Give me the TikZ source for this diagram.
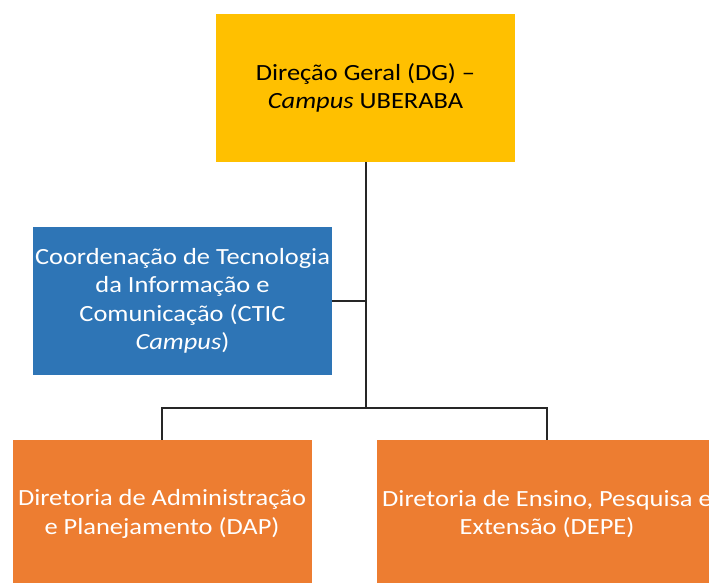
\documentclass[tikz,border=0pt]{standalone}
\usepackage{fontspec}
\setmainfont{Carlito}[FakeStretch=1.14]
\definecolor{dgyellow}{HTML}{FFC000}
\definecolor{cticblue}{HTML}{2E75B6}
\definecolor{dirorange}{HTML}{ED7D31}
\begin{document}
\begin{tikzpicture}[x=1pt,y=-1pt,
  orgbox/.style={rectangle, draw=none, minimum width=299pt, minimum height=148pt, inner sep=0pt, align=center, font=\fontsize{23.2}{28.5}\selectfont},
  conn/.style={draw=black!85, line width=1.5pt}]
\useasboundingbox (0,0) rectangle (709,583);
\node[orgbox, fill=dgyellow, text=black] (dg) at (365.5,88) {Direção Geral (DG) –\\\textit{Campus} UBERABA};
\node[orgbox, fill=cticblue, text=white] (ctic) at (182.5,301) {Coordenação de Tecnologia\\da Informação e\\Comunicação (CTIC\\\textit{Campus})};
\node[orgbox, fill=dirorange, text=white] (dap) at (162,514) {Diretoria de Administração\\e Planejamento (DAP)};
\node[orgbox, fill=dirorange, text=white, minimum width=340pt] (depe) at (547,514) {Diretoria de Ensino, Pesquisa e\\Extensão (DEPE)};
\coordinate (j) at (366,408);
\draw[conn] (dg.south -| j) -- (j);
\draw[conn] (ctic.east) -- (ctic.east -| j);
\draw[conn] (dap.north) |- (j) -| (depe.north);
\end{tikzpicture}
\end{document}
